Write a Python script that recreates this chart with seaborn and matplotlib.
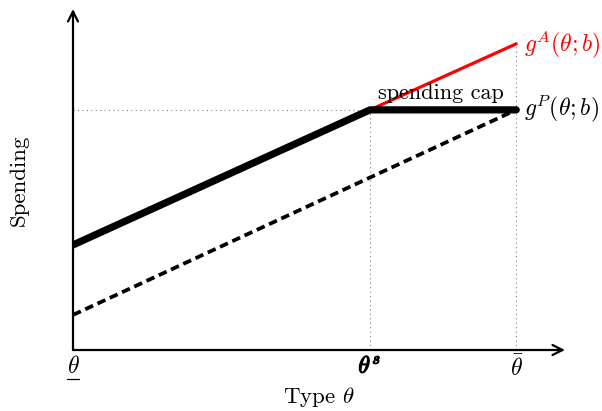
import matplotlib
matplotlib.use("Agg")
import matplotlib.pyplot as plt
from matplotlib.lines import Line2D
import matplotlib.patheffects as pe
import seaborn as sns
import pandas as pd

sns.set_style("white")
plt.rcParams['mathtext.fontset'] = 'cm'
plt.rcParams['font.family'] = ['serif']
plt.rcParams['font.serif'] = ['cmr10', 'DejaVu Serif']
plt.rcParams['axes.formatter.use_mathtext'] = True
plt.rcParams['text.color'] = 'black'
plt.rcParams['xtick.color'] = 'black'

# data (x: type, y: spending)
theta_low, theta_s, theta_bar = 0.0, 0.67, 1.0
cap = 1.0
gP_x = [theta_low, theta_s, theta_bar]
gP_y = [0.4375, cap, cap]
gA_x = [theta_s, theta_bar]
gA_y = [cap, 1.275]
dash_x = [theta_low, theta_bar]
dash_y = [0.146, cap]
tick_labels = [r'$\theta$', r'$\theta^s$', r'$\bar{\theta}$']

xmax, ymax = 1.11, 1.42

fig = plt.figure(figsize=(6.02, 4.11), dpi=100)
ax = fig.add_axes([73/602, (411-350)/411, (565-73)/602, (350-9)/411])
ax.set_xlim(0, xmax)
ax.set_ylim(0, ymax)
for s in ax.spines.values():
    s.set_visible(False)

# guide dotted lines
ax.plot([0, theta_s], [cap, cap], ls=(0, (1, 3)), color='gray', lw=0.8)
ax.plot([theta_s, theta_s], [0, cap], ls=(0, (1, 3)), color='gray', lw=0.8)
ax.plot([theta_bar, theta_bar], [0, gA_y[-1]], ls=(0, (1, 3)), color='gray', lw=0.8)

sns.lineplot(x=dash_x, y=dash_y, ax=ax, color='black', lw=2.7, linestyle=(0, (2.3, 1.3)), sort=False)
sns.lineplot(x=gA_x, y=gA_y, ax=ax, color='red', lw=2.3, sort=False)
sns.lineplot(x=gP_x, y=gP_y, ax=ax, color='black', lw=5.2, sort=False)

# axes arrows
ax.annotate('', xy=(xmax, 0), xytext=(0, 0), arrowprops=dict(arrowstyle='->', lw=1.6, color='black', shrinkA=0, shrinkB=0, mutation_scale=18), annotation_clip=False)
ax.annotate('', xy=(0, ymax), xytext=(0, 0), arrowprops=dict(arrowstyle='->', lw=1.6, color='black', shrinkA=0, shrinkB=0, mutation_scale=18), annotation_clip=False)

ax.set_xticks([theta_low, theta_s, theta_bar])
ax.set_xticklabels(tick_labels, fontsize=17)
ax.tick_params(axis='x', length=0, pad=4)
ax.set_yticks([])
# bold look for theta^s
ax.get_xticklabels()[1].set_path_effects([pe.withStroke(linewidth=0.9, foreground='black')])

# underline for lower theta
fig.add_artist(Line2D([67/602, 79/602], [1 - 379/411, 1 - 379/411], color='black', lw=0.9))

ax.text(theta_bar + 0.018, gA_y[-1], r'$g^A(\theta;b)$', color='red', fontsize=17, va='center', ha='left')
ax.text(theta_bar + 0.018, cap, r'$g^P(\theta;b)$', color='black', fontsize=17, va='center', ha='left')
ax.text(0.83, 1.045, 'spending cap', fontsize=16, ha='center', va='baseline', color='black')

fig.text(319/602, 1 - 397/411, r'Type $\theta$', fontsize=16.5, ha='center', va='center', color='black')
fig.text(19/602, 1 - 180/411, 'Spending', fontsize=16.5, ha='center', va='center', rotation=90, color='black')

fig.savefig('out.png', dpi=100)
